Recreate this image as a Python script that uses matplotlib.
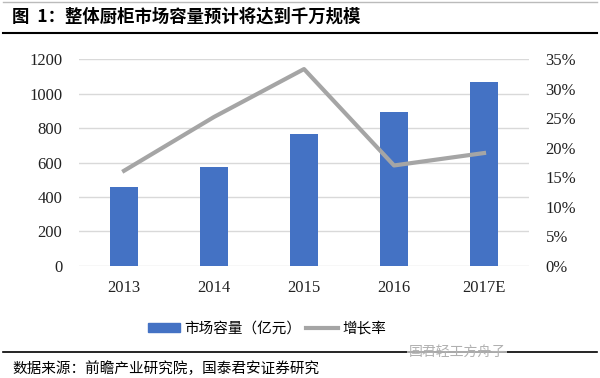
import matplotlib
matplotlib.use("Agg")
import matplotlib.pyplot as plt
from matplotlib.lines import Line2D
from matplotlib.patches import Patch
import numpy as np

plt.rcParams["font.family"] = ["Liberation Serif", "Noto Sans CJK SC"]

years = ["2013", "2014", "2015", "2016", "2017E"]
capacity = [460, 576, 768, 894, 1065]  # 亿元
growth = [0.161, 0.252, 0.333, 0.170, 0.191]

bar_color = "#4472C4"
line_color = "#A5A5A5"
cjk = ["Noto Sans CJK SC", "DejaVu Sans"]

fig = plt.figure(figsize=(6, 3.78), dpi=100)
ax = fig.add_axes([0.1317, 0.2963, 0.75, 0.5476])
ax2 = ax.twinx()

x = np.arange(len(years))
ax.bar(x, capacity, width=0.31, color=bar_color, zorder=2)
ax2.plot(x, growth, color=line_color, lw=3, zorder=3)

ax.set_xlim(-0.5, len(years) - 0.5)
ax.set_ylim(0, 1200)
ax.set_yticks(np.arange(0, 1201, 200))
ax2.set_ylim(0, 0.35)
ax2.set_yticks(np.arange(0, 0.351, 0.05))
ax2.set_yticklabels([f"{int(round(v * 100))}%" for v in np.arange(0, 0.351, 0.05)])
ax.set_xticks(x)
ax.set_xticklabels(years)

ax.grid(axis="y", color="#D9D9D9", lw=1, zorder=0)
ax.set_axisbelow(True)
for a in (ax, ax2):
    for s in a.spines.values():
        s.set_visible(False)
    a.tick_params(length=0, labelsize=12, colors="#222222")
ax.tick_params(axis="y", pad=12)
ax2.tick_params(axis="y", pad=12)
ax.tick_params(axis="x", pad=10)

handles = [Patch(color=bar_color), Line2D([0], [0], color=line_color, lw=3)]
fig.legend(handles, ["市场容量（亿元）", "增长率"], loc="center",
           bbox_to_anchor=(0.445, 0.131), ncol=2, frameon=False,
           prop={"family": cjk, "size": 10.5}, handlelength=2.2,
           handleheight=0.6, columnspacing=0.3, handletextpad=0.3)

# header and footer
fig.add_artist(Line2D([0.005, 0.995], [0.994, 0.994], color="#BBBBBB", lw=1))
fig.text(0.02, 0.957, "图  1：整体厨柜市场容量预计将达到千万规模", family=cjk,
         fontsize=12.5, fontweight="bold", va="center", ha="left")
fig.add_artist(Line2D([0.005, 0.995], [0.913, 0.913], color="black", lw=1.5))
fig.add_artist(Line2D([0.005, 0.995], [0.069, 0.069], color="black", lw=1.2))
fig.text(0.02, 0.025, "数据来源：前瞻产业研究院，国泰君安证券研究", family=cjk,
         fontsize=10.5, va="center", ha="left")
fig.text(0.762, 0.069, "国君轻工方舟子", family=cjk, fontsize=10,
         color="#B0B0B0", va="center", ha="center",
         bbox=dict(facecolor="white", edgecolor="none", pad=1, alpha=0.6))

fig.savefig("out.png", dpi=100)
